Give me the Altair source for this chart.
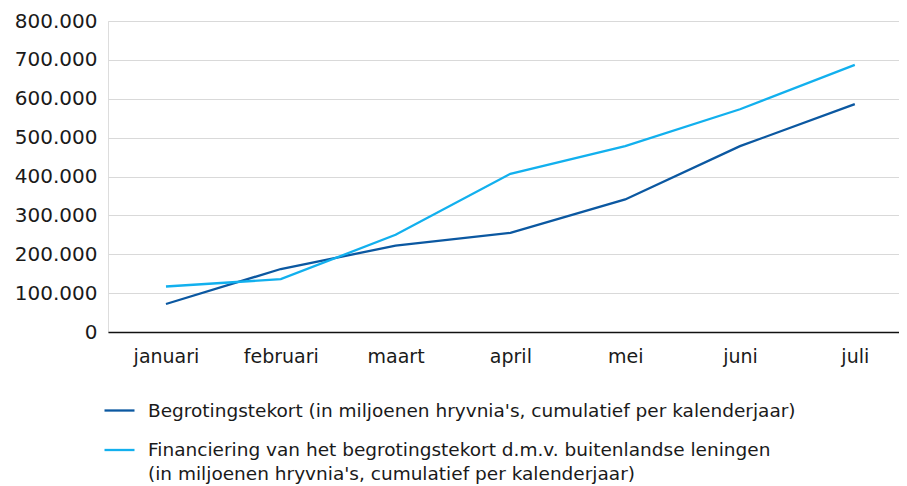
import altair as alt
import pandas as pd

months = ["januari", "februari", "maart", "april", "mei", "juni", "juli"]
tekort = [72000, 162000, 222000, 255000, 341000, 478000, 586000]
financiering = [117000, 136000, 250000, 407000, 478000, 573000, 687000]
series = [
    "Begrotingstekort (in miljoenen hryvnia's, cumulatief per kalenderjaar)",
    "Financiering van het begrotingstekort d.m.v. buitenlandse leningen (in miljoenen hryvnia's, cumulatief per kalenderjaar)",
]
colors = ["#0b58a1", "#12b0ee"]

rows = []
for i, (m, a, b) in enumerate(zip(months, tekort, financiering)):
    rows.append({"idx": i, "maand": m, "serie": series[0], "waarde": a})
    rows.append({"idx": i, "maand": m, "serie": series[1], "waarde": b})
df = pd.DataFrame(rows)

month_array = "[" + ",".join("'" + m + "'" for m in months) + "]"

label_expr = (
    "indexof(datum.label, 'Financiering') == 0 ? "
    "['Financiering van het begrotingstekort d.m.v. buitenlandse leningen', "
    "\"(in miljoenen hryvnia's, cumulatief per kalenderjaar)\"] : datum.label"
)

chart = (
    alt.Chart(df)
    .mark_line(strokeWidth=2.3)
    .encode(
        x=alt.X(
            "idx:Q",
            scale=alt.Scale(domain=[-0.505, 6.385], nice=False, zero=False),
            axis=alt.Axis(
                title=None,
                values=list(range(len(months))),
                labelExpr=month_array + "[datum.value]",
                labelAngle=0,
                ticks=False,
                tickSize=0,
                domainColor="#111111",
                domainWidth=1.5,
                labelPadding=15,
                labelFont="DejaVu Sans",
                labelFontSize=19,
                labelColor="#1a1a1a",
                labelFlush=False,
                labelOverlap=False,
                grid=False,
            ),
        ),
        y=alt.Y(
            "waarde:Q",
            scale=alt.Scale(domain=[0, 800000]),
            axis=alt.Axis(
                title=None,
                values=[0, 100000, 200000, 300000, 400000, 500000, 600000, 700000, 800000],
                labelExpr="replace(format(datum.value, ','), ',', '.')",
                domain=False,
                ticks=False,
                tickSize=0,
                labelPadding=11,
                labelFont="DejaVu Sans",
                labelFontSize=20,
                labelColor="#1a1a1a",
                gridColor="#d9d9d9",
                gridWidth=1,
            ),
        ),
        color=alt.Color(
            "serie:N",
            sort=series,
            scale=alt.Scale(domain=series, range=colors),
            legend=alt.Legend(
                title=None,
                orient="none",
                legendX=-5,
                legendY=373,
                direction="vertical",
                symbolType="stroke",
                symbolSize=900,
                symbolStrokeWidth=2.3,
                labelOffset=12,
                labelFont="DejaVu Sans",
                labelFontSize=18.5,
                labelColor="#1a1a1a",
                labelLimit=900,
                labelExpr=label_expr,
                rowPadding=13.5,
            ),
        ),
    )
    .properties(
        width=791,
        height=311,
        padding={"left": 100, "top": 13, "right": 0, "bottom": 165},
        autosize=alt.AutoSizeParams(type="none"),
    )
    .configure_view(stroke=None)
    .configure(style={"guide-label": {"lineHeight": 23.5}})
)

chart.save("out.html", embed_options={"renderer": "svg", "actions": False})
